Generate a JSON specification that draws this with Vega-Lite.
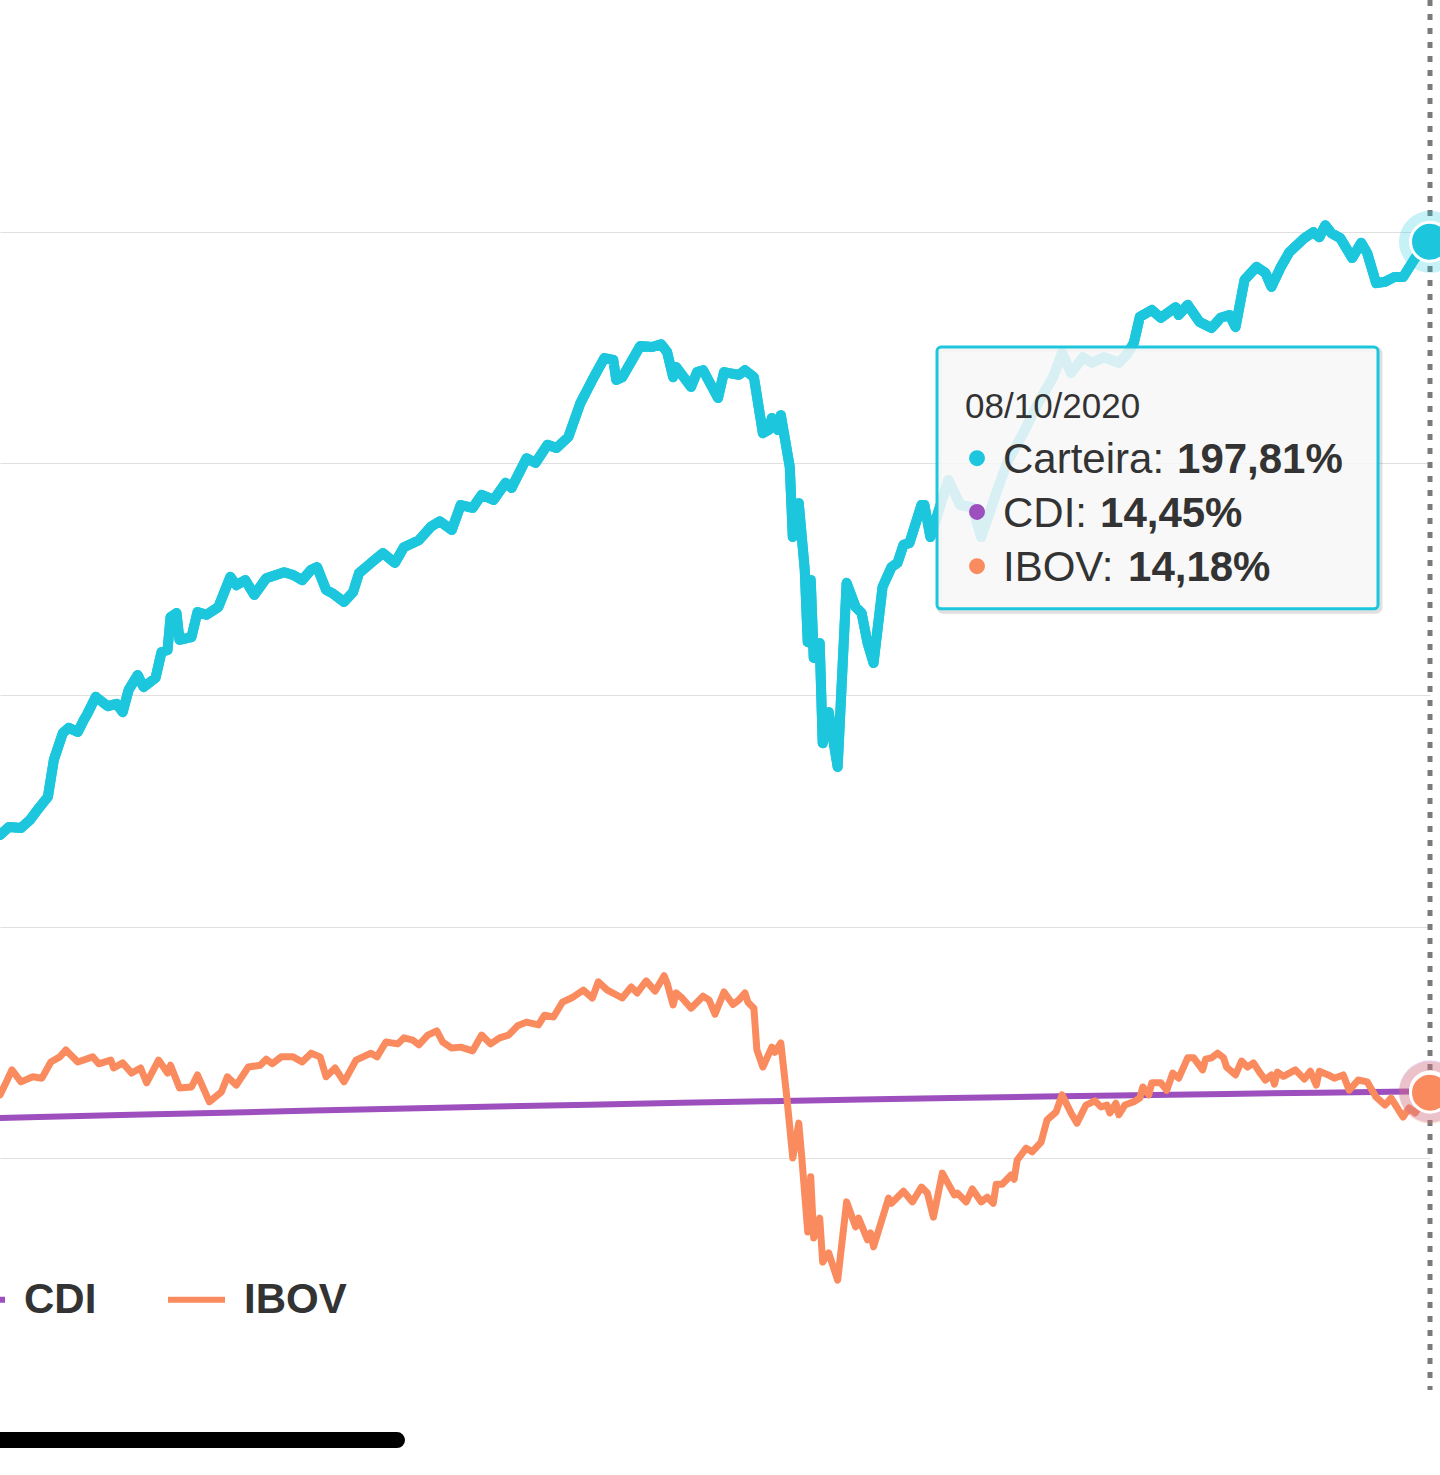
{
  "$schema": "https://vega.github.io/schema/vega-lite/v6.json",
  "width": 1430,
  "height": 1390,
  "autosize": {"type": "none"},
  "padding": {"left": 0, "top": 0, "right": 10, "bottom": 85},
  "background": "white",
  "config": {"view": {"stroke": null}, "font": "Liberation Sans"},
  "datasets": {
    "precos": [
      {"data":"2019-06-18","serie":"Carteira","valor":69.8},
      {"data":"2019-06-21","serie":"Carteira","valor":71.5},
      {"data":"2019-06-25","serie":"Carteira","valor":71.3},
      {"data":"2019-06-28","serie":"Carteira","valor":73.0},
      {"data":"2019-07-01","serie":"Carteira","valor":75.6},
      {"data":"2019-07-04","serie":"Carteira","valor":78.0},
      {"data":"2019-07-06","serie":"Carteira","valor":86.0},
      {"data":"2019-07-09","serie":"Carteira","valor":91.8},
      {"data":"2019-07-11","serie":"Carteira","valor":92.9},
      {"data":"2019-07-14","serie":"Carteira","valor":92.0},
      {"data":"2019-07-16","serie":"Carteira","valor":94.6},
      {"data":"2019-07-17","serie":"Carteira","valor":95.7},
      {"data":"2019-07-20","serie":"Carteira","valor":99.6},
      {"data":"2019-07-24","serie":"Carteira","valor":97.6},
      {"data":"2019-07-27","serie":"Carteira","valor":98.1},
      {"data":"2019-07-29","serie":"Carteira","valor":96.3},
      {"data":"2019-07-31","serie":"Carteira","valor":101.1},
      {"data":"2019-08-03","serie":"Carteira","valor":104.3},
      {"data":"2019-08-05","serie":"Carteira","valor":101.7},
      {"data":"2019-08-09","serie":"Carteira","valor":103.7},
      {"data":"2019-08-11","serie":"Carteira","valor":109.3},
      {"data":"2019-08-13","serie":"Carteira","valor":109.7},
      {"data":"2019-08-14","serie":"Carteira","valor":116.8},
      {"data":"2019-08-16","serie":"Carteira","valor":117.7},
      {"data":"2019-08-17","serie":"Carteira","valor":111.9},
      {"data":"2019-08-21","serie":"Carteira","valor":112.5},
      {"data":"2019-08-23","serie":"Carteira","valor":117.9},
      {"data":"2019-08-26","serie":"Carteira","valor":117.3},
      {"data":"2019-08-30","serie":"Carteira","valor":119.0},
      {"data":"2019-09-03","serie":"Carteira","valor":125.5},
      {"data":"2019-09-05","serie":"Carteira","valor":123.7},
      {"data":"2019-09-08","serie":"Carteira","valor":124.8},
      {"data":"2019-09-11","serie":"Carteira","valor":121.6},
      {"data":"2019-09-15","serie":"Carteira","valor":125.2},
      {"data":"2019-09-21","serie":"Carteira","valor":126.5},
      {"data":"2019-09-24","serie":"Carteira","valor":125.9},
      {"data":"2019-09-27","serie":"Carteira","valor":124.8},
      {"data":"2019-09-30","serie":"Carteira","valor":127.0},
      {"data":"2019-10-02","serie":"Carteira","valor":127.6},
      {"data":"2019-10-05","serie":"Carteira","valor":122.7},
      {"data":"2019-10-07","serie":"Carteira","valor":122.0},
      {"data":"2019-10-11","serie":"Carteira","valor":120.1},
      {"data":"2019-10-14","serie":"Carteira","valor":122.2},
      {"data":"2019-10-16","serie":"Carteira","valor":126.3},
      {"data":"2019-10-20","serie":"Carteira","valor":128.5},
      {"data":"2019-10-24","serie":"Carteira","valor":130.6},
      {"data":"2019-10-28","serie":"Carteira","valor":128.5},
      {"data":"2019-10-31","serie":"Carteira","valor":131.9},
      {"data":"2019-11-05","serie":"Carteira","valor":133.4},
      {"data":"2019-11-09","serie":"Carteira","valor":136.3},
      {"data":"2019-11-12","serie":"Carteira","valor":137.5},
      {"data":"2019-11-16","serie":"Carteira","valor":135.6},
      {"data":"2019-11-19","serie":"Carteira","valor":141.0},
      {"data":"2019-11-23","serie":"Carteira","valor":140.4},
      {"data":"2019-11-26","serie":"Carteira","valor":143.2},
      {"data":"2019-11-30","serie":"Carteira","valor":142.1},
      {"data":"2019-12-04","serie":"Carteira","valor":145.8},
      {"data":"2019-12-06","serie":"Carteira","valor":144.7},
      {"data":"2019-12-11","serie":"Carteira","valor":151.1},
      {"data":"2019-12-14","serie":"Carteira","valor":150.1},
      {"data":"2019-12-18","serie":"Carteira","valor":154.0},
      {"data":"2019-12-21","serie":"Carteira","valor":153.3},
      {"data":"2019-12-25","serie":"Carteira","valor":155.7},
      {"data":"2019-12-29","serie":"Carteira","valor":163.0},
      {"data":"2020-01-02","serie":"Carteira","valor":168.0},
      {"data":"2020-01-06","serie":"Carteira","valor":172.7},
      {"data":"2020-01-09","serie":"Carteira","valor":172.3},
      {"data":"2020-01-10","serie":"Carteira","valor":168.0},
      {"data":"2020-01-12","serie":"Carteira","valor":168.6},
      {"data":"2020-01-18","serie":"Carteira","valor":175.3},
      {"data":"2020-01-22","serie":"Carteira","valor":175.1},
      {"data":"2020-01-25","serie":"Carteira","valor":175.7},
      {"data":"2020-01-27","serie":"Carteira","valor":174.0},
      {"data":"2020-01-29","serie":"Carteira","valor":168.6},
      {"data":"2020-01-30","serie":"Carteira","valor":170.8},
      {"data":"2020-02-04","serie":"Carteira","valor":166.5},
      {"data":"2020-02-06","serie":"Carteira","valor":169.7},
      {"data":"2020-02-08","serie":"Carteira","valor":170.1},
      {"data":"2020-02-13","serie":"Carteira","valor":164.1},
      {"data":"2020-02-15","serie":"Carteira","valor":169.7},
      {"data":"2020-02-20","serie":"Carteira","valor":169.1},
      {"data":"2020-02-22","serie":"Carteira","valor":170.1},
      {"data":"2020-02-25","serie":"Carteira","valor":168.6},
      {"data":"2020-02-28","serie":"Carteira","valor":156.5},
      {"data":"2020-03-01","serie":"Carteira","valor":157.2},
      {"data":"2020-03-02","serie":"Carteira","valor":159.8},
      {"data":"2020-03-04","serie":"Carteira","valor":157.2},
      {"data":"2020-03-05","serie":"Carteira","valor":160.4},
      {"data":"2020-03-08","serie":"Carteira","valor":149.2},
      {"data":"2020-03-09","serie":"Carteira","valor":134.1},
      {"data":"2020-03-11","serie":"Carteira","valor":141.4},
      {"data":"2020-03-13","serie":"Carteira","valor":127.0},
      {"data":"2020-03-14","serie":"Carteira","valor":111.4},
      {"data":"2020-03-15","serie":"Carteira","valor":124.8},
      {"data":"2020-03-16","serie":"Carteira","valor":108.0},
      {"data":"2020-03-18","serie":"Carteira","valor":111.2},
      {"data":"2020-03-19","serie":"Carteira","valor":89.6},
      {"data":"2020-03-21","serie":"Carteira","valor":96.3},
      {"data":"2020-03-24","serie":"Carteira","valor":84.5},
      {"data":"2020-03-27","serie":"Carteira","valor":124.2},
      {"data":"2020-03-30","serie":"Carteira","valor":119.0},
      {"data":"2020-04-01","serie":"Carteira","valor":117.7},
      {"data":"2020-04-03","serie":"Carteira","valor":111.2},
      {"data":"2020-04-05","serie":"Carteira","valor":106.9},
      {"data":"2020-04-08","serie":"Carteira","valor":123.3},
      {"data":"2020-04-11","serie":"Carteira","valor":127.6},
      {"data":"2020-04-13","serie":"Carteira","valor":128.5},
      {"data":"2020-04-15","serie":"Carteira","valor":132.4},
      {"data":"2020-04-17","serie":"Carteira","valor":132.8},
      {"data":"2020-04-21","serie":"Carteira","valor":141.0},
      {"data":"2020-04-22","serie":"Carteira","valor":141.0},
      {"data":"2020-04-24","serie":"Carteira","valor":134.1},
      {"data":"2020-04-30","serie":"Carteira","valor":146.4},
      {"data":"2020-05-04","serie":"Carteira","valor":141.0},
      {"data":"2020-05-08","serie":"Carteira","valor":140.5},
      {"data":"2020-05-11","serie":"Carteira","valor":134.1},
      {"data":"2020-05-16","serie":"Carteira","valor":143.6},
      {"data":"2020-05-20","serie":"Carteira","valor":150.7},
      {"data":"2020-05-25","serie":"Carteira","valor":156.5},
      {"data":"2020-05-30","serie":"Carteira","valor":163.0},
      {"data":"2020-06-04","serie":"Carteira","valor":168.6},
      {"data":"2020-06-07","serie":"Carteira","valor":173.8},
      {"data":"2020-06-10","serie":"Carteira","valor":169.5},
      {"data":"2020-06-14","serie":"Carteira","valor":172.9},
      {"data":"2020-06-17","serie":"Carteira","valor":171.7},
      {"data":"2020-06-21","serie":"Carteira","valor":172.9},
      {"data":"2020-06-26","serie":"Carteira","valor":171.7},
      {"data":"2020-06-29","serie":"Carteira","valor":173.8},
      {"data":"2020-07-01","serie":"Carteira","valor":176.0},
      {"data":"2020-07-03","serie":"Carteira","valor":181.6},
      {"data":"2020-07-07","serie":"Carteira","valor":183.1},
      {"data":"2020-07-10","serie":"Carteira","valor":181.4},
      {"data":"2020-07-15","serie":"Carteira","valor":183.7},
      {"data":"2020-07-16","serie":"Carteira","valor":182.0},
      {"data":"2020-07-19","serie":"Carteira","valor":184.2},
      {"data":"2020-07-23","serie":"Carteira","valor":180.5},
      {"data":"2020-07-27","serie":"Carteira","valor":179.2},
      {"data":"2020-07-30","serie":"Carteira","valor":181.4},
      {"data":"2020-08-02","serie":"Carteira","valor":182.0},
      {"data":"2020-08-04","serie":"Carteira","valor":179.4},
      {"data":"2020-08-07","serie":"Carteira","valor":189.6},
      {"data":"2020-08-11","serie":"Carteira","valor":192.4},
      {"data":"2020-08-14","serie":"Carteira","valor":191.1},
      {"data":"2020-08-16","serie":"Carteira","valor":188.1},
      {"data":"2020-08-19","serie":"Carteira","valor":192.2},
      {"data":"2020-08-22","serie":"Carteira","valor":195.6},
      {"data":"2020-08-27","serie":"Carteira","valor":198.6},
      {"data":"2020-08-30","serie":"Carteira","valor":199.9},
      {"data":"2020-09-01","serie":"Carteira","valor":198.8},
      {"data":"2020-09-03","serie":"Carteira","valor":201.4},
      {"data":"2020-09-05","serie":"Carteira","valor":199.7},
      {"data":"2020-09-08","serie":"Carteira","valor":198.6},
      {"data":"2020-09-12","serie":"Carteira","valor":194.3},
      {"data":"2020-09-15","serie":"Carteira","valor":197.6},
      {"data":"2020-09-17","serie":"Carteira","valor":195.4},
      {"data":"2020-09-20","serie":"Carteira","valor":188.9},
      {"data":"2020-09-23","serie":"Carteira","valor":189.2},
      {"data":"2020-09-26","serie":"Carteira","valor":190.2},
      {"data":"2020-09-29","serie":"Carteira","valor":190.2},
      {"data":"2020-10-03","serie":"Carteira","valor":194.3},
      {"data":"2020-10-08","serie":"Carteira","valor":197.81},
      {"data":"2019-06-18","serie":"CDI","valor":8.70},
      {"data":"2019-07-01","serie":"CDI","valor":8.90},
      {"data":"2019-08-01","serie":"CDI","valor":9.38},
      {"data":"2019-09-01","serie":"CDI","valor":9.86},
      {"data":"2019-10-01","serie":"CDI","valor":10.30},
      {"data":"2019-11-01","serie":"CDI","valor":10.75},
      {"data":"2019-12-01","serie":"CDI","valor":11.17},
      {"data":"2020-01-01","serie":"CDI","valor":11.58},
      {"data":"2020-02-01","serie":"CDI","valor":11.97},
      {"data":"2020-03-01","serie":"CDI","valor":12.33},
      {"data":"2020-04-01","serie":"CDI","valor":12.68},
      {"data":"2020-05-01","serie":"CDI","valor":13.00},
      {"data":"2020-06-01","serie":"CDI","valor":13.32},
      {"data":"2020-07-01","serie":"CDI","valor":13.62},
      {"data":"2020-08-01","serie":"CDI","valor":13.90},
      {"data":"2020-09-01","serie":"CDI","valor":14.17},
      {"data":"2020-10-01","serie":"CDI","valor":14.40},
      {"data":"2020-10-08","serie":"CDI","valor":14.45},
      {"data":"2019-06-18","serie":"IBOV","valor":13.7},
      {"data":"2019-06-20","serie":"IBOV","valor":16.3},
      {"data":"2019-06-22","serie":"IBOV","valor":19.1},
      {"data":"2019-06-25","serie":"IBOV","valor":16.5},
      {"data":"2019-06-29","serie":"IBOV","valor":17.6},
      {"data":"2019-07-02","serie":"IBOV","valor":17.3},
      {"data":"2019-07-05","serie":"IBOV","valor":20.8},
      {"data":"2019-07-08","serie":"IBOV","valor":21.9},
      {"data":"2019-07-10","serie":"IBOV","valor":23.4},
      {"data":"2019-07-14","serie":"IBOV","valor":20.8},
      {"data":"2019-07-19","serie":"IBOV","valor":21.9},
      {"data":"2019-07-21","serie":"IBOV","valor":20.4},
      {"data":"2019-07-25","serie":"IBOV","valor":21.2},
      {"data":"2019-07-26","serie":"IBOV","valor":19.5},
      {"data":"2019-07-29","serie":"IBOV","valor":20.6},
      {"data":"2019-08-01","serie":"IBOV","valor":18.4},
      {"data":"2019-08-04","serie":"IBOV","valor":19.5},
      {"data":"2019-08-06","serie":"IBOV","valor":16.3},
      {"data":"2019-08-10","serie":"IBOV","valor":21.2},
      {"data":"2019-08-13","serie":"IBOV","valor":18.4},
      {"data":"2019-08-14","serie":"IBOV","valor":20.1},
      {"data":"2019-08-17","serie":"IBOV","valor":15.2},
      {"data":"2019-08-21","serie":"IBOV","valor":15.4},
      {"data":"2019-08-23","serie":"IBOV","valor":18.0},
      {"data":"2019-08-27","serie":"IBOV","valor":12.2},
      {"data":"2019-08-31","serie":"IBOV","valor":14.3},
      {"data":"2019-09-02","serie":"IBOV","valor":17.6},
      {"data":"2019-09-05","serie":"IBOV","valor":15.8},
      {"data":"2019-09-09","serie":"IBOV","valor":19.7},
      {"data":"2019-09-13","serie":"IBOV","valor":20.1},
      {"data":"2019-09-15","serie":"IBOV","valor":21.4},
      {"data":"2019-09-17","serie":"IBOV","valor":20.4},
      {"data":"2019-09-20","serie":"IBOV","valor":21.9},
      {"data":"2019-09-24","serie":"IBOV","valor":21.9},
      {"data":"2019-09-27","serie":"IBOV","valor":20.8},
      {"data":"2019-09-30","serie":"IBOV","valor":22.7},
      {"data":"2019-10-03","serie":"IBOV","valor":21.9},
      {"data":"2019-10-05","serie":"IBOV","valor":17.6},
      {"data":"2019-10-08","serie":"IBOV","valor":19.5},
      {"data":"2019-10-11","serie":"IBOV","valor":16.5},
      {"data":"2019-10-15","serie":"IBOV","valor":21.2},
      {"data":"2019-10-20","serie":"IBOV","valor":22.7},
      {"data":"2019-10-22","serie":"IBOV","valor":21.9},
      {"data":"2019-10-25","serie":"IBOV","valor":25.1},
      {"data":"2019-10-29","serie":"IBOV","valor":24.7},
      {"data":"2019-10-31","serie":"IBOV","valor":26.0},
      {"data":"2019-11-03","serie":"IBOV","valor":25.5},
      {"data":"2019-11-05","serie":"IBOV","valor":24.5},
      {"data":"2019-11-08","serie":"IBOV","valor":26.6},
      {"data":"2019-11-11","serie":"IBOV","valor":27.5},
      {"data":"2019-11-13","serie":"IBOV","valor":25.1},
      {"data":"2019-11-16","serie":"IBOV","valor":23.8},
      {"data":"2019-11-19","serie":"IBOV","valor":24.0},
      {"data":"2019-11-23","serie":"IBOV","valor":23.2},
      {"data":"2019-11-26","serie":"IBOV","valor":26.6},
      {"data":"2019-11-29","serie":"IBOV","valor":24.7},
      {"data":"2019-12-02","serie":"IBOV","valor":26.0},
      {"data":"2019-12-05","serie":"IBOV","valor":26.6},
      {"data":"2019-12-08","serie":"IBOV","valor":28.6},
      {"data":"2019-12-11","serie":"IBOV","valor":29.4},
      {"data":"2019-12-15","serie":"IBOV","valor":28.8},
      {"data":"2019-12-17","serie":"IBOV","valor":30.9},
      {"data":"2019-12-20","serie":"IBOV","valor":30.5},
      {"data":"2019-12-23","serie":"IBOV","valor":33.7},
      {"data":"2019-12-26","serie":"IBOV","valor":34.6},
      {"data":"2019-12-27","serie":"IBOV","valor":35.0},
      {"data":"2019-12-30","serie":"IBOV","valor":36.3},
      {"data":"2020-01-02","serie":"IBOV","valor":34.6},
      {"data":"2020-01-04","serie":"IBOV","valor":38.1},
      {"data":"2020-01-07","serie":"IBOV","valor":36.3},
      {"data":"2020-01-12","serie":"IBOV","valor":34.6},
      {"data":"2020-01-15","serie":"IBOV","valor":37.0},
      {"data":"2020-01-17","serie":"IBOV","valor":35.7},
      {"data":"2020-01-20","serie":"IBOV","valor":38.3},
      {"data":"2020-01-23","serie":"IBOV","valor":36.1},
      {"data":"2020-01-26","serie":"IBOV","valor":39.4},
      {"data":"2020-01-27","serie":"IBOV","valor":37.8},
      {"data":"2020-01-29","serie":"IBOV","valor":33.1},
      {"data":"2020-01-30","serie":"IBOV","valor":35.7},
      {"data":"2020-02-01","serie":"IBOV","valor":34.6},
      {"data":"2020-02-04","serie":"IBOV","valor":32.4},
      {"data":"2020-02-08","serie":"IBOV","valor":35.0},
      {"data":"2020-02-10","serie":"IBOV","valor":34.2},
      {"data":"2020-02-12","serie":"IBOV","valor":31.1},
      {"data":"2020-02-15","serie":"IBOV","valor":35.9},
      {"data":"2020-02-18","serie":"IBOV","valor":33.2},
      {"data":"2020-02-20","serie":"IBOV","valor":34.2},
      {"data":"2020-02-22","serie":"IBOV","valor":35.7},
      {"data":"2020-02-23","serie":"IBOV","valor":33.7},
      {"data":"2020-02-25","serie":"IBOV","valor":32.4},
      {"data":"2020-02-26","serie":"IBOV","valor":23.4},
      {"data":"2020-02-28","serie":"IBOV","valor":19.7},
      {"data":"2020-03-02","serie":"IBOV","valor":24.0},
      {"data":"2020-03-03","serie":"IBOV","valor":22.9},
      {"data":"2020-03-05","serie":"IBOV","valor":24.9},
      {"data":"2020-03-07","serie":"IBOV","valor":13.2},
      {"data":"2020-03-09","serie":"IBOV","valor":0.1},
      {"data":"2020-03-11","serie":"IBOV","valor":7.6},
      {"data":"2020-03-12","serie":"IBOV","valor":0.3},
      {"data":"2020-03-14","serie":"IBOV","valor":-15.9},
      {"data":"2020-03-15","serie":"IBOV","valor":-4.0},
      {"data":"2020-03-16","serie":"IBOV","valor":-17.2},
      {"data":"2020-03-18","serie":"IBOV","valor":-12.9},
      {"data":"2020-03-19","serie":"IBOV","valor":-22.4},
      {"data":"2020-03-21","serie":"IBOV","valor":-20.4},
      {"data":"2020-03-24","serie":"IBOV","valor":-26.3},
      {"data":"2020-03-27","serie":"IBOV","valor":-9.4},
      {"data":"2020-03-30","serie":"IBOV","valor":-14.8},
      {"data":"2020-03-31","serie":"IBOV","valor":-12.9},
      {"data":"2020-04-03","serie":"IBOV","valor":-17.6},
      {"data":"2020-04-04","serie":"IBOV","valor":-16.1},
      {"data":"2020-04-05","serie":"IBOV","valor":-19.1},
      {"data":"2020-04-10","serie":"IBOV","valor":-8.6},
      {"data":"2020-04-11","serie":"IBOV","valor":-9.7},
      {"data":"2020-04-15","serie":"IBOV","valor":-7.1},
      {"data":"2020-04-18","serie":"IBOV","valor":-9.4},
      {"data":"2020-04-21","serie":"IBOV","valor":-6.2},
      {"data":"2020-04-23","serie":"IBOV","valor":-7.5},
      {"data":"2020-04-25","serie":"IBOV","valor":-12.7},
      {"data":"2020-04-28","serie":"IBOV","valor":-3.2},
      {"data":"2020-05-02","serie":"IBOV","valor":-7.9},
      {"data":"2020-05-03","serie":"IBOV","valor":-7.5},
      {"data":"2020-05-06","serie":"IBOV","valor":-9.4},
      {"data":"2020-05-08","serie":"IBOV","valor":-6.6},
      {"data":"2020-05-11","serie":"IBOV","valor":-9.4},
      {"data":"2020-05-13","serie":"IBOV","valor":-8.4},
      {"data":"2020-05-15","serie":"IBOV","valor":-9.7},
      {"data":"2020-05-16","serie":"IBOV","valor":-5.6},
      {"data":"2020-05-18","serie":"IBOV","valor":-5.6},
      {"data":"2020-05-21","serie":"IBOV","valor":-3.6},
      {"data":"2020-05-22","serie":"IBOV","valor":-4.5},
      {"data":"2020-05-23","serie":"IBOV","valor":-0.4},
      {"data":"2020-05-26","serie":"IBOV","valor":2.2},
      {"data":"2020-05-28","serie":"IBOV","valor":1.4},
      {"data":"2020-05-31","serie":"IBOV","valor":3.5},
      {"data":"2020-06-02","serie":"IBOV","valor":8.3},
      {"data":"2020-06-05","serie":"IBOV","valor":10.0},
      {"data":"2020-06-07","serie":"IBOV","valor":13.7},
      {"data":"2020-06-10","serie":"IBOV","valor":9.8},
      {"data":"2020-06-12","serie":"IBOV","valor":7.6},
      {"data":"2020-06-15","serie":"IBOV","valor":11.5},
      {"data":"2020-06-18","serie":"IBOV","valor":12.4},
      {"data":"2020-06-20","serie":"IBOV","valor":11.1},
      {"data":"2020-06-22","serie":"IBOV","valor":11.5},
      {"data":"2020-06-23","serie":"IBOV","valor":9.8},
      {"data":"2020-06-25","serie":"IBOV","valor":11.9},
      {"data":"2020-06-26","serie":"IBOV","valor":9.4},
      {"data":"2020-06-28","serie":"IBOV","valor":11.5},
      {"data":"2020-07-01","serie":"IBOV","valor":12.2},
      {"data":"2020-07-03","serie":"IBOV","valor":13.0},
      {"data":"2020-07-04","serie":"IBOV","valor":15.4},
      {"data":"2020-07-06","serie":"IBOV","valor":13.7},
      {"data":"2020-07-07","serie":"IBOV","valor":16.3},
      {"data":"2020-07-10","serie":"IBOV","valor":16.3},
      {"data":"2020-07-12","serie":"IBOV","valor":14.7},
      {"data":"2020-07-14","serie":"IBOV","valor":18.4},
      {"data":"2020-07-16","serie":"IBOV","valor":17.3},
      {"data":"2020-07-19","serie":"IBOV","valor":21.7},
      {"data":"2020-07-21","serie":"IBOV","valor":21.7},
      {"data":"2020-07-24","serie":"IBOV","valor":19.1},
      {"data":"2020-07-25","serie":"IBOV","valor":21.4},
      {"data":"2020-07-27","serie":"IBOV","valor":21.7},
      {"data":"2020-07-29","serie":"IBOV","valor":22.7},
      {"data":"2020-07-31","serie":"IBOV","valor":21.7},
      {"data":"2020-08-01","serie":"IBOV","valor":19.7},
      {"data":"2020-08-04","serie":"IBOV","valor":18.0},
      {"data":"2020-08-06","serie":"IBOV","valor":21.0},
      {"data":"2020-08-08","serie":"IBOV","valor":19.7},
      {"data":"2020-08-10","serie":"IBOV","valor":20.6},
      {"data":"2020-08-12","serie":"IBOV","valor":18.6},
      {"data":"2020-08-14","serie":"IBOV","valor":16.9},
      {"data":"2020-08-16","serie":"IBOV","valor":18.0},
      {"data":"2020-08-17","serie":"IBOV","valor":16.0},
      {"data":"2020-08-18","serie":"IBOV","valor":18.6},
      {"data":"2020-08-20","serie":"IBOV","valor":17.7},
      {"data":"2020-08-24","serie":"IBOV","valor":19.1},
      {"data":"2020-08-27","serie":"IBOV","valor":17.1},
      {"data":"2020-08-29","serie":"IBOV","valor":18.8},
      {"data":"2020-08-31","serie":"IBOV","valor":15.8},
      {"data":"2020-09-01","serie":"IBOV","valor":18.8},
      {"data":"2020-09-04","serie":"IBOV","valor":18.0},
      {"data":"2020-09-06","serie":"IBOV","valor":17.3},
      {"data":"2020-09-09","serie":"IBOV","valor":18.0},
      {"data":"2020-09-11","serie":"IBOV","valor":14.7},
      {"data":"2020-09-14","serie":"IBOV","valor":16.9},
      {"data":"2020-09-17","serie":"IBOV","valor":16.5},
      {"data":"2020-09-20","serie":"IBOV","valor":13.2},
      {"data":"2020-09-23","serie":"IBOV","valor":11.5},
      {"data":"2020-09-25","serie":"IBOV","valor":13.0},
      {"data":"2020-09-29","serie":"IBOV","valor":8.9},
      {"data":"2020-10-01","serie":"IBOV","valor":10.9},
      {"data":"2020-10-03","serie":"IBOV","valor":9.8},
      {"data":"2020-10-08","serie":"IBOV","valor":14.18}
    ],
    "dica": [
      {"serie": "Carteira", "rotulo": "Carteira:", "valor": "197,81%"},
      {"serie": "CDI", "rotulo": "CDI:", "valor": "14,45%"},
      {"serie": "IBOV", "rotulo": "IBOV:", "valor": "14,18%"}
    ],
    "cabecalho": [{"titulo": "08/10/2020"}]
  },
  "layer": [
    {
      "data": {"name": "precos"},
      "transform": [{"filter": "datum.serie === 'Carteira'"}],
      "mark": {"type": "line", "strokeWidth": 10, "strokeJoin": "round", "strokeCap": "round"},
      "encoding": {
        "x": {
          "field": "data",
          "type": "temporal",
          "axis": null,
          "scale": {"type": "utc", "nice": false, "domain": [1560816000000, 1602115200000]}
        },
        "y": {
          "field": "valor",
          "type": "quantitative",
          "scale": {"domain": [-50, 250], "nice": false, "zero": false},
          "axis": {"values": [0, 50, 100, 150, 200], "labels": false, "ticks": false, "domain": false, "title": null, "grid": true, "gridColor": "#e0e0e0", "gridWidth": 1.2}
        },
        "color": {
          "field": "serie",
          "type": "nominal",
          "scale": {"domain": ["Carteira", "CDI", "IBOV"], "range": ["#1cc7dd", "#9c4fbd", "#fa8b5e"]},
          "legend": {
            "orient": "none", "legendX": -361, "legendY": 1268, "direction": "horizontal", "title": null,
            "padding": 0, "symbolType": "stroke", "symbolStrokeWidth": 6, "symbolSize": 3249, "symbolOpacity": 1,
            "labelFont": "Liberation Sans", "labelFontSize": 42, "labelFontWeight": "bold", "labelColor": "#333333",
            "labelOffset": 16, "columnPadding": 59, "labelLimit": 0,
            "encode": {
              "symbols": {
                "update": {
                  "stroke": {"scale": "color", "field": "value"},
                  "opacity": {"value": 1},
                  "strokeOpacity": {"value": 1},
                  "fillOpacity": {"value": 0},
                  "strokeWidth": {"value": 6}
                }
              }
            }
          }
        }
      }
    },
    {
      "data": {"name": "cabecalho"},
      "mark": {"type": "rule", "color": "#7a7a7a", "strokeWidth": 5, "strokeDash": [6, 8]},
      "encoding": {
        "x": {"datum": 1602115200000, "type": "temporal"}
      }
    },
    {
      "data": {"name": "precos"},
      "transform": [{"filter": "datum.serie === 'Carteira'"}],
      "mark": {"type": "line", "strokeWidth": 10, "strokeJoin": "round", "strokeCap": "round"},
      "encoding": {
        "x": {"field": "data", "type": "temporal"},
        "y": {"field": "valor", "type": "quantitative"},
        "color": {"field": "serie", "type": "nominal"}
      }
    },
    {
      "data": {"name": "precos"},
      "transform": [{"filter": "datum.serie === 'CDI'"}],
      "mark": {"type": "line", "strokeWidth": 6, "strokeJoin": "round", "strokeCap": "round"},
      "encoding": {
        "x": {"field": "data", "type": "temporal"},
        "y": {"field": "valor", "type": "quantitative"},
        "color": {"field": "serie", "type": "nominal"}
      }
    },
    {
      "data": {"name": "precos"},
      "transform": [{"filter": "datum.serie === 'IBOV'"}],
      "mark": {"type": "line", "strokeWidth": 7, "strokeJoin": "round", "strokeCap": "round"},
      "encoding": {
        "x": {"field": "data", "type": "temporal"},
        "y": {"field": "valor", "type": "quantitative"},
        "color": {"field": "serie", "type": "nominal"}
      }
    },
    {
      "data": {"name": "precos"},
      "transform": [{"filter": "time(datum.data) === 1602115200000"}],
      "mark": {"type": "point", "filled": true, "size": 3848, "opacity": 0.25},
      "encoding": {
        "x": {"field": "data", "type": "temporal"},
        "y": {"field": "valor", "type": "quantitative"},
        "color": {"field": "serie", "type": "nominal"}
      }
    },
    {
      "data": {"name": "precos"},
      "transform": [{"filter": "time(datum.data) === 1602115200000"}],
      "mark": {"type": "point", "filled": true, "size": 1520, "opacity": 1, "stroke": "white", "strokeWidth": 3},
      "encoding": {
        "x": {"field": "data", "type": "temporal"},
        "y": {"field": "valor", "type": "quantitative"},
        "color": {"field": "serie", "type": "nominal"}
      }
    },
    {
      "data": {"name": "cabecalho"},
      "mark": {"type": "rect", "fillOpacity": 0, "stroke": "#000000", "strokeOpacity": 0.12, "strokeWidth": 5, "cornerRadius": 4},
      "encoding": {
        "x": {"datum": 1587934800000, "type": "temporal"},
        "x2": {"datum": 1600671600000},
        "y": {"datum": 174.6, "type": "quantitative"},
        "y2": {"datum": 118.1}
      }
    },
    {
      "data": {"name": "cabecalho"},
      "mark": {"type": "rect", "fill": "#f7f7f7", "fillOpacity": 0.86, "stroke": "#1cc7dd", "strokeWidth": 3, "cornerRadius": 4},
      "encoding": {
        "x": {"datum": 1587877200000, "type": "temporal"},
        "x2": {"datum": 1600614000000},
        "y": {"datum": 175.1, "type": "quantitative"},
        "y2": {"datum": 118.6}
      }
    },
    {
      "data": {"name": "cabecalho"},
      "mark": {"type": "text", "align": "left", "baseline": "alphabetic", "dx": -12, "fontSize": 35, "color": "#333333"},
      "encoding": {
        "x": {"datum": 1589032800000, "type": "temporal"},
        "y": {"datum": 159.8, "type": "quantitative"},
        "text": {"field": "titulo", "type": "nominal"}
      }
    },
    {
      "data": {"name": "dica"},
      "transform": [{"filter": "datum.serie === 'Carteira'"}],
      "mark": {"type": "point", "filled": true, "size": 254, "opacity": 1},
      "encoding": {
        "x": {"datum": 1589032800000, "type": "temporal"},
        "y": {"datum": 151.1, "type": "quantitative"},
        "color": {"field": "serie", "type": "nominal"}
      }
    },
    {
      "data": {"name": "dica"},
      "transform": [{"filter": "datum.serie === 'Carteira'"}],
      "mark": {"type": "text", "align": "left", "baseline": "middle", "dx": 26, "dy": 2, "fontSize": 42, "color": "#333333"},
      "encoding": {
        "x": {"datum": 1589032800000, "type": "temporal"},
        "y": {"datum": 151.1, "type": "quantitative"},
        "text": {"field": "rotulo", "type": "nominal"}
      }
    },
    {
      "data": {"name": "dica"},
      "transform": [{"filter": "datum.serie === 'Carteira'"}],
      "mark": {"type": "text", "align": "left", "baseline": "middle", "dx": 200, "dy": 2, "fontSize": 42, "fontWeight": "bold", "color": "#333333"},
      "encoding": {
        "x": {"datum": 1589032800000, "type": "temporal"},
        "y": {"datum": 151.1, "type": "quantitative"},
        "text": {"field": "valor", "type": "nominal"}
      }
    },
    {
      "data": {"name": "dica"},
      "transform": [{"filter": "datum.serie === 'CDI'"}],
      "mark": {"type": "point", "filled": true, "size": 254, "opacity": 1},
      "encoding": {
        "x": {"datum": 1589032800000, "type": "temporal"},
        "y": {"datum": 139.5, "type": "quantitative"},
        "color": {"field": "serie", "type": "nominal"}
      }
    },
    {
      "data": {"name": "dica"},
      "transform": [{"filter": "datum.serie === 'CDI'"}],
      "mark": {"type": "text", "align": "left", "baseline": "middle", "dx": 26, "dy": 2, "fontSize": 42, "color": "#333333"},
      "encoding": {
        "x": {"datum": 1589032800000, "type": "temporal"},
        "y": {"datum": 139.5, "type": "quantitative"},
        "text": {"field": "rotulo", "type": "nominal"}
      }
    },
    {
      "data": {"name": "dica"},
      "transform": [{"filter": "datum.serie === 'CDI'"}],
      "mark": {"type": "text", "align": "left", "baseline": "middle", "dx": 123, "dy": 2, "fontSize": 42, "fontWeight": "bold", "color": "#333333"},
      "encoding": {
        "x": {"datum": 1589032800000, "type": "temporal"},
        "y": {"datum": 139.5, "type": "quantitative"},
        "text": {"field": "valor", "type": "nominal"}
      }
    },
    {
      "data": {"name": "dica"},
      "transform": [{"filter": "datum.serie === 'IBOV'"}],
      "mark": {"type": "point", "filled": true, "size": 254, "opacity": 1},
      "encoding": {
        "x": {"datum": 1589032800000, "type": "temporal"},
        "y": {"datum": 127.8, "type": "quantitative"},
        "color": {"field": "serie", "type": "nominal"}
      }
    },
    {
      "data": {"name": "dica"},
      "transform": [{"filter": "datum.serie === 'IBOV'"}],
      "mark": {"type": "text", "align": "left", "baseline": "middle", "dx": 26, "dy": 2, "fontSize": 42, "color": "#333333"},
      "encoding": {
        "x": {"datum": 1589032800000, "type": "temporal"},
        "y": {"datum": 127.8, "type": "quantitative"},
        "text": {"field": "rotulo", "type": "nominal"}
      }
    },
    {
      "data": {"name": "dica"},
      "transform": [{"filter": "datum.serie === 'IBOV'"}],
      "mark": {"type": "text", "align": "left", "baseline": "middle", "dx": 151, "dy": 2, "fontSize": 42, "fontWeight": "bold", "color": "#333333"},
      "encoding": {
        "x": {"datum": 1589032800000, "type": "temporal"},
        "y": {"datum": 127.8, "type": "quantitative"},
        "text": {"field": "valor", "type": "nominal"}
      }
    },
    {
      "data": {"name": "cabecalho"},
      "mark": {"type": "rule", "color": "#000000", "strokeWidth": 16, "strokeCap": "round"},
      "encoding": {
        "x": {"datum": 1560124800000, "type": "temporal"},
        "x2": {"datum": 1572282000000},
        "y": {"datum": -60.8, "type": "quantitative"}
      }
    }
  ]
}
